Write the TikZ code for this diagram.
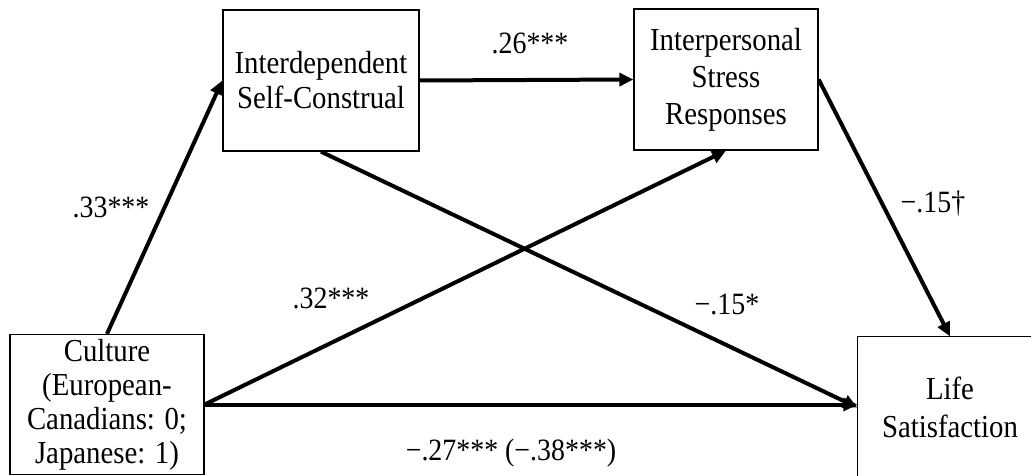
\documentclass[tikz,border=0pt]{standalone}
\usepackage{fontspec}
\setmainfont{Liberation Serif}[FakeStretch=0.9]
\usetikzlibrary{arrows.meta}
\begin{document}
\begin{tikzpicture}[x=1pt,y=-1pt,
  box/.style={draw,line width=1.3pt,align=center,inner sep=0pt,font=\fontsize{32}{35}\selectfont},
  link/.style={line width=4pt,-{Triangle[length=14pt,width=13pt]}},
  lab/.style={font=\fontsize{31}{34}\selectfont,inner sep=0pt}]
\clip (0,0) rectangle (1031,476);
\fill[white] (0,0) rectangle (1031,476);
\node[box,minimum width=196pt,minimum height=141pt] (ind) at (321,80.5) {Interdependent\\Self-Construal};
\node[box,minimum width=184pt,minimum height=141pt,font=\fontsize{32}{37}\selectfont] (isr) at (726,79.5) {Interpersonal\\Stress\\Responses};
\node[box,minimum width=194pt,minimum height=140pt,font=\fontsize{32}{34}\selectfont] (cult) at (107,404.5) {Culture\\(European-\\Canadians: 0;\\Japanese: 1)};
\node[box,draw=none,minimum width=184pt,minimum height=141pt,font=\fontsize{32}{38}\selectfont] (life) at (950,407.5) {Life\\Satisfaction};
\draw[line width=1.3pt] (life.south west) -- (life.north west) -- ([xshift=40pt]life.north east);
\draw[link] (cult.north) -- (ind.west);
\draw[link] (ind.east) -- (isr.west);
\draw[link] (isr.east) -- (life.north);
\draw[link] (ind.south) -- (life.west);
\draw[link] (cult.east) -- (isr.south);
\draw[link] (cult.east) -- (cult.east -| life.west);
\node[lab] (l1) at (530,43) {.26***};
\node[lab] (l2) at (111,207) {.33***};
\node[lab] (l3) at (331,298) {.32***};
\node[lab] (l4) at (727,304) {−.15*};
\node[lab] (l5) at (933,204) {−.15†};
\node[lab] (l6) at (511,453) {−.27*** (−.38***)};
\end{tikzpicture}
\end{document}
